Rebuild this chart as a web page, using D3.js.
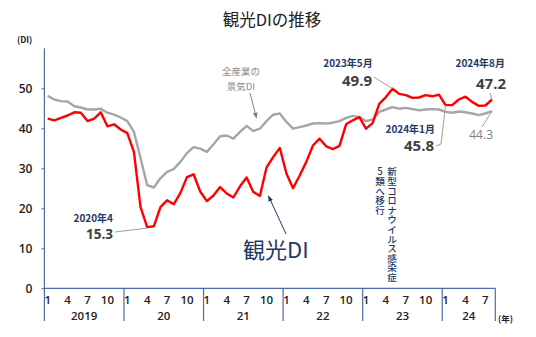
<!DOCTYPE html>
<html><head><meta charset="utf-8">
<script src="https://cdn.jsdelivr.net/npm/d3@7"></script>
<style>
html,body{margin:0;padding:0;background:#fff;}
svg{display:block;font-family:"Noto Sans CJK JP","Noto Sans",sans-serif;}
.vert{writing-mode:vertical-rl;text-orientation:upright;}
</style></head>
<body><svg id="c" width="536" height="337"></svg>
<script>
// ---- data ----
const years = [2019, 2020, 2021, 2022, 2023, 2024];
const yearLabels = ["2019", "20", "21", "22", "23", "24"];
const monthsInYear = [12, 12, 12, 12, 12, 8];
const monthTickLabels = [1, 4, 7, 10];
const yTicks = [0, 10, 20, 30, 40, 50];
// 観光DI (monthly, 2019/1 - 2024/8)
const kankoDI = [
  42.4, 42.0, 42.6, 43.2, 44.0, 43.9, 41.8, 42.4, 44.0, 40.5, 41.0, 39.7,
  38.8, 34.1, 20.3, 15.3, 15.5, 20.3, 22.0, 21.0, 23.8, 27.8, 28.5, 24.2,
  21.8, 23.2, 25.3, 23.7, 22.7, 25.5, 27.7, 24.1, 23.1, 30.2, 32.8, 35.1,
  28.7, 25.0, 28.2, 31.6, 35.7, 37.4, 35.5, 34.8, 35.6, 41.0, 42.0, 42.8,
  39.9, 41.3, 46.1, 47.8, 49.9, 48.6, 48.3, 47.6, 47.7, 48.3, 48.0, 48.4,
  45.8, 45.8, 47.2, 47.9, 46.6, 45.6, 45.7, 47.2
];
// 全産業の景気DI
const zenSangyoDI = [
  48.1, 47.2, 46.8, 46.7, 45.5, 45.2, 44.7, 44.7, 44.9, 43.9, 43.4, 42.7,
  41.8, 39.1, 32.5, 25.8, 25.2, 27.5, 29.1, 29.8, 31.6, 33.8, 35.3, 34.9,
  34.1, 36.0, 38.0, 38.2, 37.4, 39.1, 40.6, 39.3, 39.9, 41.8, 43.4, 43.7,
  41.6, 39.9, 40.3, 40.7, 41.2, 41.3, 41.2, 41.4, 41.8, 42.6, 43.1, 42.8,
  41.8, 42.2, 44.1, 44.7, 45.3, 44.9, 45.1, 44.8, 44.5, 44.7, 44.8, 44.7,
  44.1, 43.9, 44.2, 44.0, 43.7, 43.3, 43.7, 44.3
];
const annotations = [
  {idx: 15, series: "k", top: "2020年4", val: "15.3"},
  {idx: 52, series: "k", top: "2023年5月", val: "49.9"},
  {idx: 67, series: "k", top: "2024年8月", val: "47.2"},
  {idx: 60, series: "k", top: "2024年1月", val: "45.8"},
  {idx: 67, series: "z", top: "", val: "44.3"}
];

// ---- build month keys ----
const months = [];
years.forEach((y, yi) => { for (let m = 1; m <= monthsInYear[yi]; m++) months.push({y, m, key: y + "-" + m}); });

const svg = d3.select("#c");
const navy = "#1f3864";
const axisCol = "#4f6aa5";

const x = d3.scaleBand().domain(months.map(d => d.key)).range([44.4, 495.3]).padding(0);
const y = d3.scaleLinear().domain([0, 60]).range([288.3, 48.3]);
const cx = i => x(months[i].key) + x.bandwidth() / 2;

// defs arrowheads
const defs = svg.append("defs");
function marker(id, col) {
  defs.append("marker").attr("id", id).attr("viewBox", "0 0 10 10").attr("refX", 9).attr("refY", 5)
    .attr("markerWidth", 6).attr("markerHeight", 6).attr("orient", "auto")
    .append("path").attr("d", "M0,1 L10,5 L0,9 Z").attr("fill", col);
}
marker("arrN", navy); marker("arrG", "#808080");

// title
svg.append("text").attr("x", 272).attr("y", 26).attr("text-anchor", "middle")
  .attr("font-size", 16.5).attr("fill", "#222").text("観光DIの推移");
svg.append("text").attr("x", 17).attr("y", 43).attr("font-size", 8.5).attr("font-weight", "bold")
  .attr("fill", "#222").text("(DI)");

// y axis
const yAxis = d3.axisLeft(y).tickValues(yTicks).tickSize(3).tickPadding(9);
const gy = svg.append("g").attr("transform", "translate(44.4,0)").call(yAxis);
gy.select(".domain").remove();
gy.selectAll(".tick line").attr("stroke", axisCol);
gy.selectAll(".tick text").attr("font-size", 12).attr("fill", "#222").attr("font-family", "'Open Sans',sans-serif").attr("font-weight", 600);
svg.append("line").attr("x1", 44.4).attr("x2", 44.4).attr("y1", 48.3).attr("y2", 321).attr("stroke", axisCol).attr("stroke-width", 1.2);

// x axis
svg.append("line").attr("x1", 44.4).attr("x2", x.range()[1]).attr("y1", 288.3).attr("y2", 288.3).attr("stroke", axisCol).attr("stroke-width", 1.2);
let start = 0;
const yearBounds = [];
years.forEach((yr, yi) => {
  const x0 = x(months[start].key);
  const x1 = x(months[start + monthsInYear[yi] - 1].key) + x.bandwidth();
  yearBounds.push([x0, x1]);
  start += monthsInYear[yi];
});
svg.selectAll("line.sep").data(yearBounds).join("line").attr("class", "sep")
  .attr("x1", d => d[1]).attr("x2", d => d[1]).attr("y1", 288.3).attr("y2", 321)
  .attr("stroke", axisCol).attr("stroke-width", 1.2);
svg.selectAll("text.yr").data(yearBounds).join("text").attr("class", "yr")
  .attr("x", d => (d[0] + d[1]) / 2).attr("y", 320).attr("text-anchor", "middle")
  .attr("font-size", 11.5).attr("font-weight", 600).attr("fill", "#222").attr("font-family", "'Open Sans',sans-serif")
  .text((d, i) => yearLabels[i]);
const mt = months.map((d, i) => ({d, i})).filter(o => monthTickLabels.includes(o.d.m));
svg.selectAll("text.mo").data(mt).join("text").attr("class", "mo")
  .attr("x", o => cx(o.i)).attr("y", 303.5).attr("text-anchor", "middle")
  .attr("font-size", 11.5).attr("font-weight", 600).attr("fill", "#222").attr("font-family", "'Open Sans',sans-serif")
  .text(o => o.d.m);
svg.append("text").attr("x", 498).attr("y", 322).attr("font-size", 8.5).attr("font-weight", "bold").attr("fill", "#222").text("(年)");

// lines
const line = d3.line().x((d, i) => cx(i)).y(d => y(d));
svg.append("path").datum(zenSangyoDI).attr("d", line).attr("fill", "none").attr("stroke", "#a6a6a6").attr("stroke-width", 2.4).attr("stroke-linejoin", "round");
svg.append("path").datum(kankoDI).attr("d", line).attr("fill", "none").attr("stroke", "#ff0000").attr("stroke-width", 2.4).attr("stroke-linejoin", "round");

// series labels
svg.append("text").attr("x", 241).attr("y", 75).attr("text-anchor", "middle").attr("font-size", 9.5).attr("fill", "#8a8a8a").text("全産業の");
svg.append("text").attr("x", 241).attr("y", 89.5).attr("text-anchor", "middle").attr("font-size", 9.5).attr("fill", "#8a8a8a").text("景気DI");
svg.append("line").attr("x1", 250).attr("y1", 93).attr("x2", 256.5).attr("y2", 118).attr("stroke", "#808080").attr("stroke-width", 1).attr("marker-end", "url(#arrG)");

svg.append("text").attr("x", 243).attr("y", 258).attr("font-size", 22).attr("fill", navy).text("観光DI");
svg.append("line").attr("x1", 286).attr("y1", 234).attr("x2", 268.5).attr("y2", 196).attr("stroke", navy).attr("stroke-width", 1).attr("marker-end", "url(#arrN)");

// annotations
const ann = svg.append("g");
const leadCol = "#a0a0a0";
function pt(a) { const v = a.series === "k" ? kankoDI[a.idx] : zenSangyoDI[a.idx]; return [cx(a.idx), y(v)]; }
// 2020/4
{ const a = annotations[0], p = pt(a);
  ann.append("text").attr("x", 113).attr("y", 222).attr("text-anchor", "end").attr("font-size", 10).attr("font-weight", "bold").attr("fill", navy).text(a.top);
  ann.append("text").attr("x", 113).attr("y", 239).attr("text-anchor", "end").attr("font-size", 13.5).attr("font-weight", "bold").attr("fill", "#404040").attr("font-family", "'Open Sans',sans-serif").text(a.val);
  ann.append("line").attr("x1", 115).attr("y1", 232).attr("x2", p[0]).attr("y2", p[1] + 1).attr("stroke", leadCol); }
// 2023/5
{ const a = annotations[1], p = pt(a);
  ann.append("text").attr("x", 348).attr("y", 67).attr("text-anchor", "middle").attr("font-size", 10).attr("font-weight", "bold").attr("fill", navy).text(a.top);
  ann.append("text").attr("x", 372).attr("y", 85.5).attr("text-anchor", "end").attr("font-size", 15).attr("font-weight", "bold").attr("fill", "#404040").attr("font-family", "'Open Sans',sans-serif").text(a.val);
  ann.append("line").attr("x1", 374).attr("y1", 77).attr("x2", p[0]).attr("y2", p[1]).attr("stroke", leadCol); }
// 2024/8
{ const a = annotations[2], p = pt(a);
  ann.append("text").attr("x", 505).attr("y", 67).attr("text-anchor", "end").attr("font-size", 10).attr("font-weight", "bold").attr("fill", navy).text(a.top);
  ann.append("text").attr("x", 506).attr("y", 88.5).attr("text-anchor", "end").attr("font-size", 15).attr("font-weight", "bold").attr("fill", "#404040").attr("font-family", "'Open Sans',sans-serif").text(a.val);
  ann.append("line").attr("x1", 490).attr("y1", 93).attr("x2", p[0]).attr("y2", p[1]).attr("stroke", leadCol); }
// 2024/1
{ const a = annotations[3], p = pt(a);
  ann.append("text").attr("x", 435).attr("y", 132.5).attr("text-anchor", "end").attr("font-size", 10).attr("font-weight", "bold").attr("fill", navy).text(a.top);
  ann.append("text").attr("x", 434).attr("y", 151).attr("text-anchor", "end").attr("font-size", 15).attr("font-weight", "bold").attr("fill", "#404040").attr("font-family", "'Open Sans',sans-serif").text(a.val);
  ann.append("polyline").attr("points", `436,146 441,144 ${p[0]},${p[1]}`).attr("fill", "none").attr("stroke", leadCol); }
// 44.3
{ const a = annotations[4], p = pt(a);
  ann.append("text").attr("x", 493).attr("y", 139).attr("text-anchor", "end").attr("font-size", 12).attr("fill", "#7f7f7f").attr("font-family", "'Open Sans',sans-serif").text(a.val);
  ann.append("line").attr("x1", 482).attr("y1", 127).attr("x2", p[0]).attr("y2", p[1]).attr("stroke", leadCol); }

// vertical note (two columns, read right to left)
const notes = [{t: "新型コロナウイルス感染症", x: 392}, {t: "5類へ移行", x: 380}];
notes.forEach(n => {
  svg.append("text").attr("class", "vert").attr("x", n.x).attr("y", 167)
    .attr("font-size", 9.6).attr("font-weight", 500).attr("fill", navy).text(n.t);
});
</script></body></html>
